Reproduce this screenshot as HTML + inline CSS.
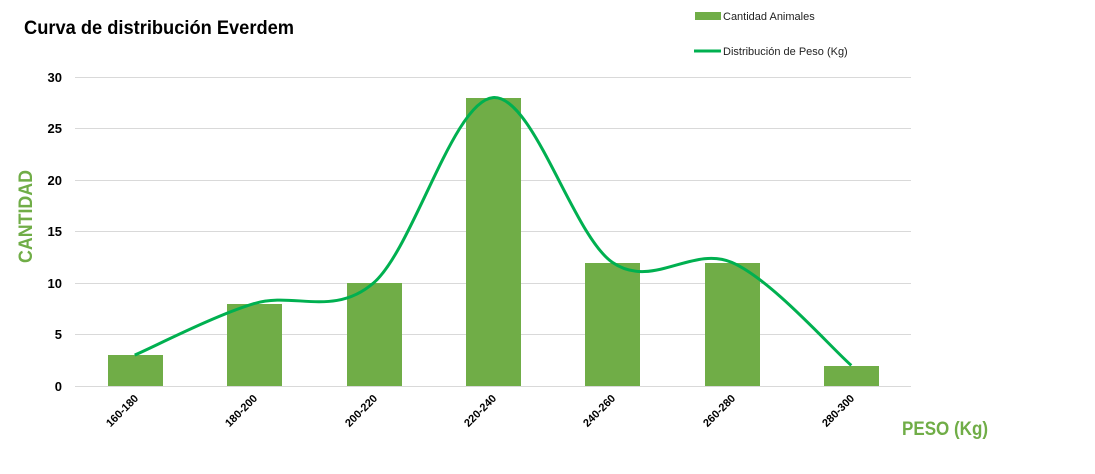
<!DOCTYPE html>
<html><head><meta charset="utf-8"><style>
html,body{margin:0;padding:0;background:#fff;}
svg{display:block;font-family:"Liberation Sans",sans-serif;}
</style></head><body>
<svg width="1095" height="474" viewBox="0 0 1095 474" xmlns="http://www.w3.org/2000/svg">
<text x="24" y="34" font-size="19" font-weight="bold" fill="#000" textLength="270" lengthAdjust="spacingAndGlyphs">Curva de distribución Everdem</text>
<rect x="695" y="12" width="26" height="8" fill="#70ad47"/>
<text x="723" y="20" font-size="11" fill="#222">Cantidad Animales</text>
<line x1="694" y1="51" x2="721" y2="51" stroke="#00b050" stroke-width="3"/>
<text x="723" y="55" font-size="11" fill="#222">Distribución de Peso (Kg)</text>
<g stroke="#d9d9d9" stroke-width="1">
<line x1="75" y1="77.5" x2="911" y2="77.5"/>
<line x1="75" y1="128.5" x2="911" y2="128.5"/>
<line x1="75" y1="180.5" x2="911" y2="180.5"/>
<line x1="75" y1="231.5" x2="911" y2="231.5"/>
<line x1="75" y1="283.5" x2="911" y2="283.5"/>
<line x1="75" y1="334.5" x2="911" y2="334.5"/>
<line x1="75" y1="386.5" x2="911" y2="386.5"/>
</g>
<g font-size="13" font-weight="bold" fill="#000" text-anchor="end">
<text x="62" y="82">30</text><text x="62" y="133">25</text><text x="62" y="185">20</text>
<text x="62" y="236">15</text><text x="62" y="288">10</text><text x="62" y="339">5</text><text x="62" y="391">0</text>
</g>
<g fill="#70ad47">
<rect x="108" y="355" width="55" height="31"/>
<rect x="227" y="304" width="55" height="82"/>
<rect x="347" y="283" width="55" height="103"/>
<rect x="466" y="98" width="55" height="288"/>
<rect x="585" y="263" width="55" height="123"/>
<rect x="705" y="263" width="55" height="123"/>
<rect x="824" y="366" width="55" height="20"/>
</g>
<path d="M134.7,355.1 C154.6,346.5 214.3,315.6 254.1,303.6 C293.9,291.6 333.7,317.3 373.5,283 C413.3,248.7 453.2,101 493,97.6 C532.8,94.2 572.6,234.9 612.4,262.4 C652.2,289.9 692,245.2 731.8,262.4 C771.6,279.6 831.4,348.2 851.3,365.4" fill="none" stroke="#00b050" stroke-width="3"/>
<g font-size="11" font-weight="bold" fill="#000" text-anchor="end">
<text transform="translate(139,399) rotate(-45)">160-180</text>
<text transform="translate(258,399) rotate(-45)">180-200</text>
<text transform="translate(378,399) rotate(-45)">200-220</text>
<text transform="translate(497,399) rotate(-45)">220-240</text>
<text transform="translate(616,399) rotate(-45)">240-260</text>
<text transform="translate(736,399) rotate(-45)">260-280</text>
<text transform="translate(855,399) rotate(-45)">280-300</text>
</g>
<text x="902" y="435" font-size="19" font-weight="bold" fill="#70ad47" textLength="86" lengthAdjust="spacingAndGlyphs">PESO (Kg)</text>
<text transform="translate(32,263) rotate(-90)" font-size="19" font-weight="bold" fill="#70ad47" textLength="93" lengthAdjust="spacingAndGlyphs">CANTIDAD</text>
</svg>
</body></html>
